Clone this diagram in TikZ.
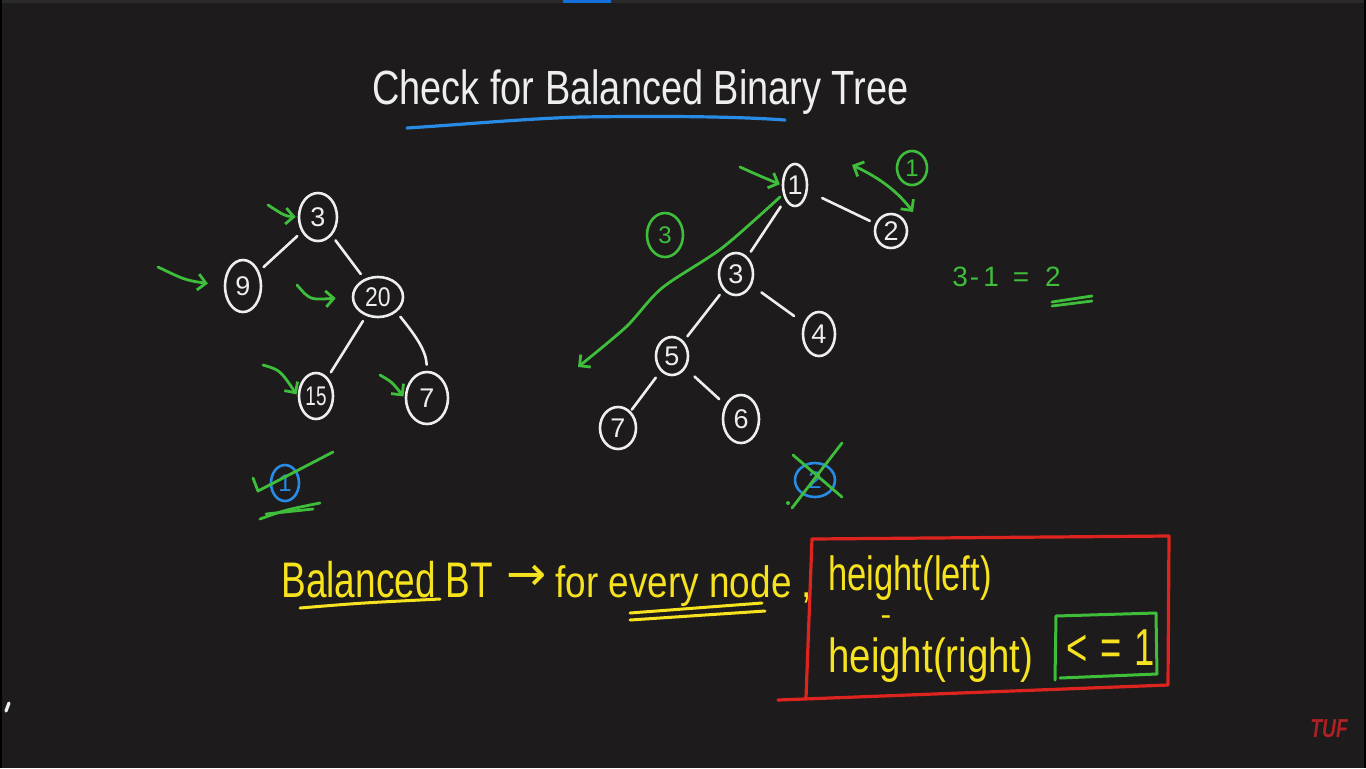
\documentclass[tikz,border=0pt]{standalone}
\usepackage{fontspec}
\setmainfont{Liberation Sans}
\newfontfamily\symfont{DejaVu Sans}
\usetikzlibrary{arrows.meta,shapes.geometric}
\definecolor{bg}{RGB}{29,27,27}
\definecolor{hwhite}{RGB}{238,238,238}
\definecolor{hgreen}{RGB}{62,190,58}
\definecolor{hblue}{RGB}{40,140,230}
\definecolor{hyellow}{RGB}{246,226,30}
\definecolor{hred}{RGB}{222,36,30}
\definecolor{tufred}{RGB}{175,32,36}
\definecolor{topbar}{RGB}{43,43,43}
\definecolor{topblue}{RGB}{20,110,220}
\newcommand{\hs}[2]{\scalebox{#1}[1]{#2}}
\tikzset{
  tn/.style={draw=hwhite, text=hwhite, line width=1.3pt, ellipse, inner sep=0pt,
             font=\fontsize{13.5}{13.5}\selectfont},
  tedge/.style={hwhite, line width=1.3pt, line cap=round, shorten <=3pt, shorten >=3pt},
  gline/.style={hgreen, line width=1.4pt, line cap=round, line join=round},
  garrow/.style={gline, -{Straight Barb[length=4pt,width=8pt,line width=1.4pt]}},
  gcirc/.style={draw=hgreen, text=hgreen, line width=1.3pt, ellipse, inner sep=0pt,
             font=\fontsize{12}{12}\selectfont},
  bcirc/.style={draw=hblue, text=hblue, line width=1.3pt, ellipse, inner sep=0pt,
             font=\fontsize{12}{12}\selectfont},
  ytext/.style={text=hyellow, inner sep=0pt, anchor=base west},
}
\begin{document}
\begin{tikzpicture}[x=0.5pt,y=-0.5pt]
\useasboundingbox (0,0) rectangle (1366,768);
\fill[bg] (0,0) rectangle (1366,768);
\fill[topbar] (0,0) rectangle (1366,3);
\fill[topblue] (563,0) rectangle (611,2.5);
\fill[black] (0,0) rectangle (1.5,768);
\fill[black] (1363.5,0) rectangle (1366,768);
\draw[hwhite, line width=1.6pt, line cap=round] (6,711) -- (9,703);

% ---------- title ----------
\node[text=hwhite, inner sep=0pt, anchor=base west, font=\fontsize{24}{24}\selectfont]
  (title) at (372,104) {\hs{0.79}{Check for Balanced Binary Tree}};
\draw[hblue, line width=1.6pt, line cap=round]
  (407,128) .. controls (470,124) and (520,119) .. (580,117)
  .. controls (650,116) and (730,116) .. (785,120);

% ---------- left tree ----------
\node[tn, minimum width=19pt, minimum height=24pt] (a3) at (318,217) {3};
\node[tn, minimum width=18pt, minimum height=26pt] (a9) at (243,286) {9};
\node[tn, minimum width=25pt, minimum height=20pt] (a20) at (378,297) {\hs{0.85}{20}};
\node[tn, minimum width=17pt, minimum height=23pt] (a15) at (316,396) {\hs{0.7}{15}};
\node[tn, minimum width=21pt, minimum height=26pt] (a7) at (427,398) {7};
\draw[tedge] (a3) -- (a9);
\draw[tedge] (a3) -- (a20);
\draw[tedge] (a20) -- (a15);
\draw[tedge] (a20.south east) .. controls (415,335) and (426,350) .. (a7.north);

\coordinate (sa3) at (268,205);
\coordinate (sa9) at (158,267);
\coordinate (sa20) at (297,285);
\coordinate (sa15) at (263,365);
\coordinate (sa7) at (380,375);
\draw[garrow, shorten >=1pt] (sa3) .. controls (285,216) .. (a3.west);
\draw[garrow, shorten >=8pt] (sa9) .. controls (185,280) .. (a9.west);
\draw[garrow, shorten >=8pt] (sa20) .. controls (310,300) .. (a20.west);
\draw[garrow, shorten >=1pt] (sa15) .. controls (280,370) .. (a15.west);
\draw[garrow, shorten >=1pt] (sa7) .. controls (392,382) .. (a7.west);

% left result
\node[bcirc, minimum width=14pt, minimum height=18pt] (lres) at (285,483) {1};
\draw[gline] (253,478) -- (258,491) -- (333,452);
\draw[gline] (260,519) .. controls (285,510) .. (320,503);
\draw[gline] (266,514) -- (313,509);

% ---------- right tree ----------
\node[tn, minimum width=12pt, minimum height=21pt] (r1) at (795,185) {1};
\node[tn, minimum width=16pt, minimum height=17pt] (r2) at (891,231) {2};
\node[tn, minimum width=17pt, minimum height=21pt] (r3) at (736,274) {3};
\node[tn, minimum width=16pt, minimum height=22pt] (r4) at (819,334) {4};
\node[tn, minimum width=16pt, minimum height=19pt] (r5) at (672,356) {5};
\node[tn, minimum width=18pt, minimum height=21pt] (r7) at (618,428) {7};
\node[tn, minimum width=18pt, minimum height=24pt] (r6) at (741,419) {6};
\draw[tedge, shorten <=8pt] (r1) -- (r2);
\draw[tedge, shorten <=4pt] (r1) -- (r3);
\draw[tedge, shorten <=6pt, shorten >=6pt] (r3) -- (r4);
\draw[tedge] (r3) -- (r5);
\draw[tedge, shorten <=4pt, shorten >=1pt] (r5) -- (r7);
\draw[tedge, shorten <=6pt, shorten >=4pt] (r5) -- (r6);

\coordinate (sr1) at (740,167);
\draw[garrow, shorten >=1pt] (sr1) .. controls (760,176) .. (r1.west);

% long arrow (height 3)
\coordinate (la0) at (780,197);
\coordinate (la1) at (578,367);
\draw[garrow] plot[smooth, tension=0.5] coordinates
  {(la0) (722,248) (662,288) (626,327) (la1)};
\node[gcirc, minimum width=18pt, minimum height=22pt] (g3) at (665,235) {3};

% double arrow (height 1)
\coordinate (da0) at (852,165);
\coordinate (da1) at (913,212);
\draw[gline, {Straight Barb[length=4pt,width=8pt,line width=1.4pt]}-{Straight Barb[length=4pt,width=8pt,line width=1.4pt]}]
  (da0) .. controls (880,178) and (898,192) .. (da1);
\node[gcirc, minimum width=15pt, minimum height=17pt] (g1) at (912,168) {1};

% 3-1 = 2
\node[text=hgreen, inner sep=0pt, anchor=base west, font=\fontsize{14}{14}\selectfont]
  (diff) at (952,286) {3\hspace{1pt}-\hspace{2pt}1\hspace{7pt}=\hspace{8pt}2};
\draw[gline] (1052,302) -- (1092,296);
\draw[gline] (1052,306) -- (1092,301);

% right result (crossed)
\node[bcirc, minimum width=20pt, minimum height=17pt] (rres) at (815,480) {2};
\draw[gline] (793,455) -- (842,497);
\draw[gline] (842,443) -- (792,508);
\fill[hgreen] (788,503) circle (1pt);

% ---------- bottom definition ----------
\node[ytext, font=\fontsize{25}{25}\selectfont] (bbt) at (281,597) {\hs{0.74}{Balanced BT}};
\draw[hyellow, line width=1.5pt, line cap=round] (300,608) .. controls (360,603) .. (440,599);
\node[text=hyellow, inner sep=0pt, font=\symfont\fontsize{24}{24}\selectfont] (arr) at (527,578) {→};
\node[ytext, font=\fontsize{22}{22}\selectfont] (fen) at (555,597) {\hs{0.84}{for every node ,}};
\draw[hyellow, line width=1.5pt, line cap=round] (630,613) -- (762,603);
\draw[hyellow, line width=1.5pt, line cap=round] (630,620) -- (765,611);

% red box
\draw[hred, line width=1.6pt, line join=round, line cap=round]
  (812,539) -- (1169,536) -- (1168,685) -- (778,700);
\draw[hred, line width=1.6pt, line cap=round] (812,539) -- (806,698);
\node[ytext, font=\fontsize{24}{24}\selectfont] (hl) at (828,590) {\hs{0.72}{height(left)}};
\node[text=hyellow, inner sep=0pt, font=\fontsize{16}{16}\selectfont] (minus) at (886,621) {-};
\node[ytext, font=\fontsize{24}{24}\selectfont] (hr) at (828,672) {\hs{0.8}{height(right)}};

% green box
\draw[hgreen, line width=1.5pt, line join=round, line cap=round]
  (1056,616) -- (1156,613) -- (1157,674) -- (1060,678);
\draw[hgreen, line width=1.5pt, line cap=round] (1056,616) -- (1055,680);
\node[ytext, font=\fontsize{26}{26}\selectfont] (le) at (1066,665) {\hs{0.7}{<\hspace{2pt} = \hspace{2pt}1}};

% watermark
\node[text=tufred, inner sep=0pt, anchor=base west, font=\bfseries\itshape\fontsize{13}{13}\selectfont]
  (tuf) at (1310,737) {\hs{0.74}{TUF}};
\end{tikzpicture}
\end{document}
